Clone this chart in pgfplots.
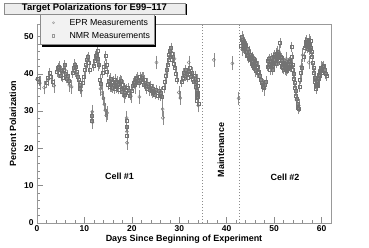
\documentclass[border=0pt]{standalone}
\usepackage{pgfplots}
\pgfplotsset{compat=1.18}
\usepackage{pgfplotstable}
\usepackage{fontspec}
\setmainfont{Liberation Sans}
\usetikzlibrary{shadows}
\pgfplotsset{mylegimg/.style={legend image code/.code={\path (0bp,0bp) (25bp,0bp); \draw[##1] plot coordinates {(9bp,0bp)};}}}

\pgfplotstableread{
x y
0.1 38.8
0.4 38.0
2.0 37.5
2.3 39.0
2.6 40.2
2.9 39.3
3.3 37.8
4.2 40.5
4.4 41.6
4.6 42.0
4.8 40.2
5.0 39.5
5.2 40.8
5.4 39.0
5.6 41.2
5.8 42.3
6.0 40.0
6.2 38.8
6.4 39.6
6.6 38.2
7.5 40.3
7.7 41.5
7.9 42.5
8.1 41.8
8.3 40.6
8.5 39.2
8.7 38.5
8.9 37.0
9.1 36.0
9.6 37.5
9.9 39.2
10.1 41.0
10.3 42.3
10.5 43.8
10.7 44.5
10.9 43.0
11.1 41.2
11.5 28.8
11.6 27.5
11.9 42.2
12.1 43.5
12.3 44.8
12.5 45.2
12.7 46.3
12.9 44.0
13.1 42.5
13.3 38.5
13.5 37.3
13.8 40.2
14.1 42.0
14.4 44.8
14.6 42.5
14.8 40.5
15.0 37.0
15.2 38.2
15.4 36.5
15.5 38.8
15.7 37.5
15.8 36.2
16.0 38.0
16.1 37.0
16.3 36.0
16.4 38.5
16.6 37.2
16.7 36.5
16.9 38.0
17.0 37.0
17.2 35.8
17.3 37.8
17.5 36.5
17.6 38.2
17.8 36.0
17.9 35.2
18.1 37.0
18.2 36.2
18.4 35.0
18.5 34.5
18.7 35.8
18.85 27.5
18.9 25.8
18.95 23.5
19.2 36.2
19.4 35.0
19.6 34.2
19.9 35.5
20.1 36.8
20.3 37.5
20.5 38.0
20.7 37.0
20.9 38.6
21.1 39.0
21.3 38.2
21.5 37.5
21.7 39.2
21.9 38.5
22.1 39.0
22.3 38.0
22.5 37.2
22.7 38.3
22.9 36.8
23.1 36.0
23.3 37.4
23.5 36.5
23.7 35.8
23.9 36.8
24.1 35.5
24.3 34.8
24.5 36.0
24.7 35.2
24.9 34.5
25.1 35.6
25.5 34.2
25.7 35.4
25.9 34.0
26.1 35.0
26.3 33.8
26.8 36.2
27.0 37.8
27.2 39.5
27.4 41.2
27.5 42.5
27.7 43.8
27.8 45.0
28.0 46.2
28.1 44.5
28.2 47.0
28.4 45.5
28.5 43.8
28.7 44.5
28.9 42.8
29.1 41.5
29.3 40.0
29.5 38.5
30.5 37.8
30.7 39.0
30.9 40.2
31.1 39.4
31.3 41.0
31.5 40.0
31.7 39.0
31.9 40.6
32.1 41.5
32.3 40.0
32.5 39.2
32.7 40.4
32.9 38.8
33.1 38.0
33.3 39.5
33.45 37.8
33.55 36.5
33.6 35.5
33.65 34.5
33.7 33.5
33.75 32.8
33.8 38.5
33.85 36.8
33.9 35.0
33.95 33.8
34.0 32.0
43.0 47.5
43.1 49.0
43.2 50.0
43.3 48.2
43.4 49.2
43.5 47.0
43.6 48.5
43.7 46.8
43.8 48.0
43.9 47.2
44.0 45.8
44.1 47.5
44.2 46.0
44.3 44.8
44.4 46.8
44.5 45.2
44.6 44.2
44.7 46.0
44.8 45.0
44.9 43.8
45.0 45.2
45.1 44.0
45.2 42.8
45.3 44.6
45.4 43.2
45.5 42.2
45.6 44.0
45.7 42.8
45.8 41.5
45.9 43.5
46.0 42.0
46.1 40.8
46.2 43.0
46.3 41.5
46.5 40.2
46.6 42.0
46.8 40.5
47.0 39.5
47.2 38.5
47.4 37.5
47.5 36.5
47.7 37.2
47.9 36.2
48.1 37.0
48.3 38.0
48.6 42.0
48.7 43.5
48.8 41.8
48.9 44.0
49.0 42.5
49.1 41.0
49.2 43.2
49.3 42.0
49.4 44.2
49.5 42.8
49.6 41.2
49.7 43.0
49.8 42.2
49.9 44.5
50.0 43.0
50.1 45.0
50.2 43.8
50.3 44.6
50.4 42.8
50.5 45.5
50.6 44.0
50.7 46.0
50.8 44.8
50.9 43.5
51.0 45.2
51.2 48.2
51.3 44.5
51.4 43.0
51.5 44.2
51.6 42.0
51.7 43.5
51.8 41.5
51.9 42.8
52.0 41.2
52.1 43.0
52.2 41.8
52.3 42.5
52.4 41.0
52.5 42.2
52.6 40.8
52.7 42.0
52.8 41.3
52.9 42.8
53.0 41.5
53.1 43.2
53.2 42.0
53.3 43.5
53.4 41.8
53.5 42.6
53.7 47.2
53.8 44.5
53.9 42.5
54.0 41.0
54.1 40.0
54.2 38.8
54.3 37.5
54.4 36.2
54.5 35.5
54.6 34.2
54.8 33.2
54.9 32.0
55.0 31.0
55.1 30.5
55.3 36.5
55.5 38.5
55.7 40.2
55.9 41.5
56.3 44.5
56.5 47.0
56.6 48.5
56.7 47.5
56.8 49.0
56.9 48.0
57.0 46.8
57.1 48.2
57.2 47.2
57.3 49.2
57.4 48.0
57.5 46.5
57.6 47.8
57.7 48.8
57.8 47.0
57.9 45.8
58.0 44.5
58.1 43.0
58.3 41.5
58.4 40.2
58.5 39.0
58.6 38.0
58.7 37.2
58.8 36.0
58.9 37.0
59.0 38.2
59.1 36.8
59.2 39.0
59.3 38.0
59.4 39.8
59.5 38.8
59.6 40.5
59.7 39.5
59.8 40.8
59.9 41.5
60.0 40.2
60.2 41.8
60.4 42.2
60.6 41.0
60.8 40.0
61.0 39.5
}\nmr

\pgfplotstableread{
x y
0.0 38.5
0.6 37.5
1.5 36.3
2.4 38.5
3.6 36.8
4.4 40.8
5.9 41.0
6.8 37.0
7.3 36.5
8.0 41.0
9.3 35.5
10.6 43.5
11.65 29.8
11.7 27.0
12.6 44.0
13.0 42.5
13.4 36.0
13.7 34.8
14.0 33.5
14.2 31.8
14.4 30.2
14.6 28.8
14.8 29.5
15.6 37.0
16.8 36.6
17.7 37.5
18.3 34.0
18.9 28.2
18.95 24.5
19.0 21.5
19.8 34.0
20.6 36.5
21.6 33.8
22.4 38.6
23.6 36.0
25.2 43.0
26.5 30.5
26.55 28.2
27.3 40.0
28.3 46.0
29.0 44.0
29.9 35.0
30.2 33.5
31.2 40.0
32.0 43.0
33.5 36.0
34.0 31.5
37.3 43.7
41.2 42.8
42.5 33.4
43.3 46.5
44.5 45.0
46.0 41.0
48.0 36.0
49.5 41.5
51.0 46.0
52.6 44.0
54.7 33.0
55.2 31.5
55.7 42.0
56.0 45.0
57.3 43.0
58.7 39.0
60.0 41.5
}\epr

\begin{document}
\begin{tikzpicture}
\path[use as bounding box] (0,0) rectangle (369bp,248bp);
\begin{axis}[
  at={(37bp,25bp)}, anchor=south west,
  scale only axis, width=294bp, height=198.5bp,
  xmin=0, xmax=62, ymin=0, ymax=53.2,
  xtick={0,10,...,60}, ytick={0,10,...,50},
  minor x tick num=4, minor y tick num=4,
  tick align=inside, xtick pos=bottom, ytick pos=left,
  major tick length=6bp, minor tick length=3bp,
  axis line style={black!40, line width=0.6bp},
  every tick/.style={black!45, line width=0.5bp},
  /pgf/number format/assume math mode=true,
  tick label style={font=\bfseries\fontsize{8.5}{10}\selectfont},
  xticklabel style={yshift=1bp},
  xlabel={Days Since Beginning of Experiment},
  ylabel={Percent Polarization},
  label style={font=\bfseries\fontsize{9}{10}\selectfont},
  xlabel style={at={(axis description cs:0.5,-0.08)}, anchor=center},
  ylabel style={at={(axis description cs:-0.082,0.5)}, anchor=center},
  legend style={at={(axis description cs:0.0102,1.0529)}, anchor=north west,
    fill=black!5, draw=black!45, line width=0.4bp,
    inner xsep=4bp, inner ysep=4.4bp, row sep=4.7bp,
    nodes={inner sep=0pt, text height=6.5bp, text depth=1.8bp},
    font=\fontsize{8.8}{10}\selectfont, cells={anchor=west},
    general shadow={fill=black, shadow xshift=2.2bp, shadow yshift=-2.2bp}},
]
\addlegendimage{mylegimg, mark=o, mark size=1.1bp, black!40, line width=0.4bp}
\addlegendentry{EPR Measurements}
\addlegendimage{mylegimg, mark=square, mark size=1.1bp, black!40, line width=0.4bp}
\addlegendentry{NMR Measurements}

\addplot[forget plot, black!45, dash pattern=on 1.5bp off 1.5bp, line width=0.5bp] coordinates {(34.8,0) (34.8,53.2)};
\addplot[forget plot, black!45, dash pattern=on 1.5bp off 1.5bp, line width=0.5bp] coordinates {(42.6,0) (42.6,53.2)};

\addplot[forget plot, only marks, mark=square, mark size=1.5bp, black!55, line width=0.4bp,
  error bars/.cd, y dir=both, y fixed=1.1,
  error bar style={black!45, line width=0.35bp},
  error mark options={black!45, mark size=0.9bp, line width=0.35bp}]
  table[x=x, y=y] {\nmr};
\addplot[forget plot, only marks, mark=o, mark size=1.6bp, black!55, line width=0.4bp,
  error bars/.cd, y dir=both, y fixed=1.6,
  error bar style={black!45, line width=0.35bp},
  error mark options={black!45, mark size=0.9bp, line width=0.35bp}]
  table[x=x, y=y] {\epr};

\node[font=\bfseries\fontsize{9}{10}\selectfont] at (axis cs:17.4,12.5) {Cell \#1};
\node[font=\bfseries\fontsize{9}{10}\selectfont] at (axis cs:52.3,12.3) {Cell \#2};
\node[font=\bfseries\fontsize{9}{10}\selectfont, rotate=90] at (axis cs:38.8,19.6) {Maintenance};
\end{axis}
\node[draw=black!45, fill=black!7, line width=0.4bp,
  general shadow={fill=black, shadow xshift=1.5bp, shadow yshift=-1.5bp},
  minimum width=181bp, minimum height=11bp, inner sep=0pt,
  font=\bfseries\fontsize{9.5}{11}\selectfont] at (94.5bp,239.5bp) {Target Polarizations for E99--117};
\end{tikzpicture}
\end{document}
